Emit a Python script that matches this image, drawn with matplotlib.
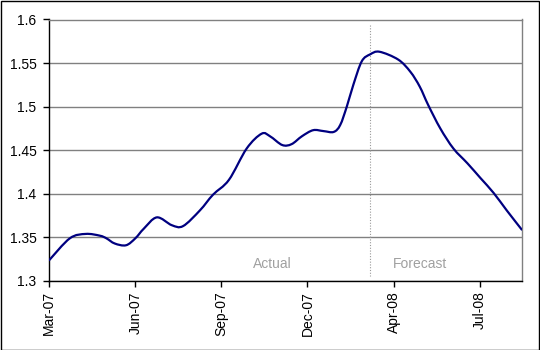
import matplotlib
matplotlib.use("Agg")
import matplotlib.pyplot as plt
import matplotlib.dates as mdates
from matplotlib.path import Path
from matplotlib.patches import PathPatch, Rectangle
import numpy as np

plt.rcParams['font.family'] = ['Liberation Sans', 'DejaVu Sans']

# Exchange-rate series: actual to early March 2008, forecast afterwards
dates = [
    "2007-03-30", "2007-04-21", "2007-05-08", "2007-05-23", "2007-05-30",
    "2007-06-08", "2007-06-20", "2007-06-30", "2007-07-09", "2007-07-23",
    "2007-08-08", "2007-08-20", "2007-09-07", "2007-09-21", "2007-10-08",
    "2007-10-27", "2007-11-12", "2007-11-21", "2007-12-04", "2007-12-14",
    "2007-12-25", "2008-01-06", "2008-01-17", "2008-01-28", "2008-02-04",
    "2008-02-11", "2008-02-18", "2008-02-27", "2008-03-07", "2008-03-17",
    "2008-04-06", "2008-04-19", "2008-04-29", "2008-05-08", "2008-05-21",
    "2008-06-04", "2008-06-19", "2008-07-03", "2008-07-17", "2008-07-31",
    "2008-08-16",
]
values = [
    1.324, 1.349, 1.354, 1.352, 1.349,
    1.343, 1.341, 1.349, 1.360, 1.373,
    1.364, 1.363, 1.381, 1.399, 1.416,
    1.452, 1.469, 1.466, 1.456, 1.457,
    1.466, 1.473, 1.472, 1.471, 1.479,
    1.500, 1.525, 1.552, 1.560, 1.563,
    1.554, 1.540, 1.523, 1.502, 1.475,
    1.452, 1.435, 1.418, 1.401, 1.381,
    1.359,
]
tick_dates = ["2007-03-30", "2007-06-30", "2007-09-30", "2007-12-31", "2008-04-01", "2008-07-02"]
tick_labels = ["Mar-07", "Jun-07", "Sep-07", "Dec-07", "Apr-08", "Jul-08"]
y_ticks = [1.3, 1.35, 1.4, 1.45, 1.5, 1.55, 1.6]
y_labels = ["1.3", "1.35", "1.4", "1.45", "1.5", "1.55", "1.6"]
split_date = "2008-03-07"
x_end = "2008-08-16"

x = mdates.datestr2num(dates)
y = np.array(values)

fig = plt.figure(figsize=(5.4, 3.5), dpi=100)
ax = fig.add_axes([49.3 / 540, 1 - 281 / 350, (521.7 - 49.3) / 540, (281 - 19.5) / 350])

# smoothed line: cubic Bezier segments through the data points
pts = np.column_stack([x, y])
verts = [tuple(pts[0])]
codes = [Path.MOVETO]
n = len(pts)
for i in range(n - 1):
    p0 = pts[i - 1] if i > 0 else pts[i]
    p1 = pts[i]
    p2 = pts[i + 1]
    p3 = pts[i + 2] if i + 2 < n else pts[i + 1]
    c1 = p1 + (p2 - p0) / 6.0
    c2 = p2 - (p3 - p1) / 6.0
    verts += [tuple(c1), tuple(c2), tuple(p2)]
    codes += [Path.CURVE4] * 3
ax.add_patch(PathPatch(Path(verts, codes), facecolor='none', edgecolor='#000080',
                       lw=1.6, zorder=3, capstyle='round', joinstyle='round'))

ax.set_xlim(x[0], mdates.datestr2num(x_end))
ax.set_ylim(1.3, 1.6)

ax.set_yticks(y_ticks)
ax.set_yticklabels(y_labels)
ax.set_xticks(mdates.datestr2num(tick_dates))
ax.set_xticklabels(tick_labels, rotation=90)
ax.tick_params(axis='both', direction='out', length=4.3, width=1, labelsize=10, colors='black')
ax.tick_params(axis='y', pad=5)
ax.tick_params(axis='x', pad=3)

ax.yaxis.grid(True, color='#808080', lw=1)
ax.set_axisbelow(True)

for s in ['top', 'right']:
    ax.spines[s].set_color('#808080')
    ax.spines[s].set_linewidth(1)
for s in ['left', 'bottom']:
    ax.spines[s].set_color('black')
    ax.spines[s].set_linewidth(1)

xs = mdates.datestr2num(split_date)
ax.plot([xs, xs], [1.594, 1.306], color='#999999', lw=0.8, ls=(0, (1, 1.5)), zorder=2)

ax.text(mdates.datestr2num("2007-11-23"), 1.3195, "Actual", color='#a0a0a0', fontsize=10,
        ha='center', va='center')
ax.text(mdates.datestr2num("2008-04-29"), 1.3195, "Forecast", color='#a0a0a0', fontsize=10,
        ha='center', va='center')

# outer frame around the whole figure
fig.patches.append(Rectangle((0.5 / 540, 0.5 / 350), 538.5 / 540, 348.5 / 350,
                             transform=fig.transFigure, fill=False, edgecolor='black', lw=1))

fig.savefig("out.png", dpi=100)
